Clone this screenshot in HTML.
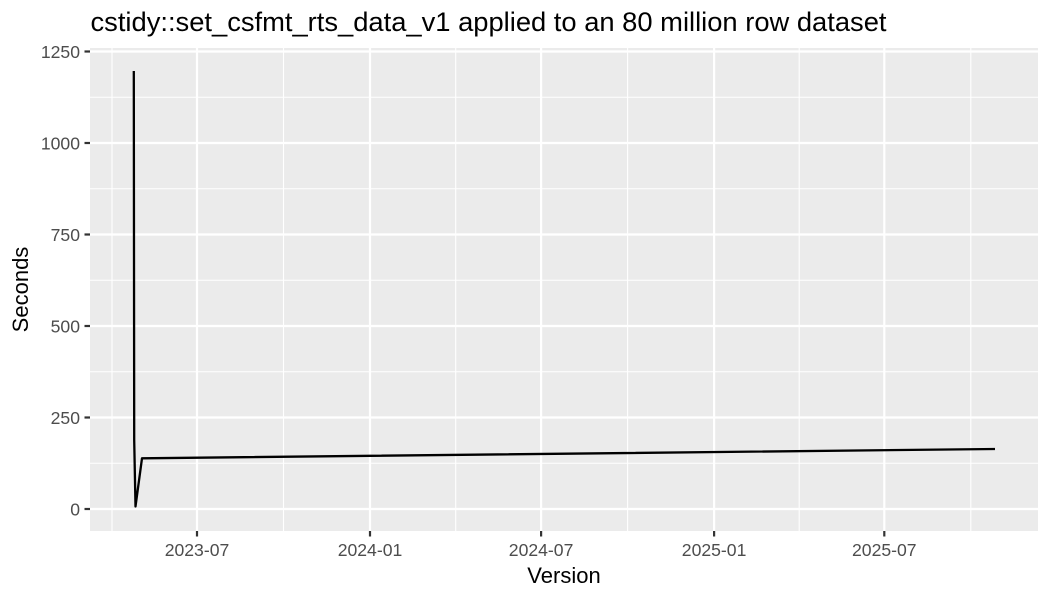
<!DOCTYPE html>
<html>
<head>
<meta charset="utf-8">
<style>
  html, body { margin: 0; padding: 0; background: #ffffff; }
  svg { display: block; }
  text { font-family: "Liberation Sans", Arial, sans-serif; }
</style>
</head>
<body>
<svg width="1050" height="600" viewBox="0 0 1050 600" xmlns="http://www.w3.org/2000/svg">
  <rect x="0" y="0" width="1050" height="600" fill="#ffffff"/>
  <!-- title -->
  <text x="90.5" y="31" font-size="26.4" fill="#000000" textLength="796" lengthAdjust="spacingAndGlyphs">cstidy::set_csfmt_rts_data_v1 applied to an 80 million row dataset</text>

  <!-- panel -->
  <rect x="90" y="48" width="948" height="483" fill="#EBEBEB"/>

  <!-- minor gridlines -->
  <g stroke="#ffffff" stroke-width="1.1" fill="none">
    <line x1="90" x2="1038" y1="463.25" y2="463.25"/>
    <line x1="90" x2="1038" y1="371.75" y2="371.75"/>
    <line x1="90" x2="1038" y1="280.25" y2="280.25"/>
    <line x1="90" x2="1038" y1="188.75" y2="188.75"/>
    <line x1="90" x2="1038" y1="97.25" y2="97.25"/>
    <line y1="48" y2="531" x1="112" x2="112"/>
    <line y1="48" y2="531" x1="283.5" x2="283.5"/>
    <line y1="48" y2="531" x1="455.7" x2="455.7"/>
    <line y1="48" y2="531" x1="627.6" x2="627.6"/>
    <line y1="48" y2="531" x1="799.2" x2="799.2"/>
    <line y1="48" y2="531" x1="970.8" x2="970.8"/>
  </g>
  <!-- major gridlines -->
  <g stroke="#ffffff" stroke-width="2.2" fill="none">
    <line x1="90" x2="1038" y1="509" y2="509"/>
    <line x1="90" x2="1038" y1="417.5" y2="417.5"/>
    <line x1="90" x2="1038" y1="326" y2="326"/>
    <line x1="90" x2="1038" y1="234.5" y2="234.5"/>
    <line x1="90" x2="1038" y1="143" y2="143"/>
    <line x1="90" x2="1038" y1="51.5" y2="51.5"/>
    <line y1="48" y2="531" x1="197" x2="197"/>
    <line y1="48" y2="531" x1="370" x2="370"/>
    <line y1="48" y2="531" x1="541.1" x2="541.1"/>
    <line y1="48" y2="531" x1="714.1" x2="714.1"/>
    <line y1="48" y2="531" x1="884.3" x2="884.3"/>
  </g>

  <!-- data line -->
  <polyline points="133.8,71 134.2,440 135.5,506.5 142,458.3 995,449" fill="none" stroke="#000000" stroke-width="2.3" stroke-linejoin="round" stroke-linecap="butt"/>

  <!-- y ticks -->
  <g stroke="#333333" stroke-width="2.2">
    <line x1="84.5" x2="90" y1="509" y2="509"/>
    <line x1="84.5" x2="90" y1="417.5" y2="417.5"/>
    <line x1="84.5" x2="90" y1="326" y2="326"/>
    <line x1="84.5" x2="90" y1="234.5" y2="234.5"/>
    <line x1="84.5" x2="90" y1="143" y2="143"/>
    <line x1="84.5" x2="90" y1="51.5" y2="51.5"/>
  </g>
  <g font-size="17.6" fill="#4D4D4D" text-anchor="end">
    <text x="80" y="515.3">0</text>
    <text x="80" y="423.8">250</text>
    <text x="80" y="332.3">500</text>
    <text x="80" y="240.8">750</text>
    <text x="80" y="149.3">1000</text>
    <text x="80" y="57.8">1250</text>
  </g>

  <!-- x ticks -->
  <g stroke="#333333" stroke-width="2.2">
    <line y1="531" y2="536.5" x1="197" x2="197"/>
    <line y1="531" y2="536.5" x1="370" x2="370"/>
    <line y1="531" y2="536.5" x1="541.1" x2="541.1"/>
    <line y1="531" y2="536.5" x1="714.1" x2="714.1"/>
    <line y1="531" y2="536.5" x1="884.3" x2="884.3"/>
  </g>
  <g font-size="17.6" fill="#4D4D4D" text-anchor="middle">
    <text x="197" y="556">2023-07</text>
    <text x="370" y="556">2024-01</text>
    <text x="541.1" y="556">2024-07</text>
    <text x="714.1" y="556">2025-01</text>
    <text x="884.3" y="556">2025-07</text>
  </g>

  <!-- axis titles -->
  <text x="564" y="583" font-size="22" fill="#000000" text-anchor="middle">Version</text>
  <text x="0" y="0" font-size="22" fill="#000000" text-anchor="middle" transform="translate(28,289.5) rotate(-90)">Seconds</text>
</svg>
</body>
</html>
